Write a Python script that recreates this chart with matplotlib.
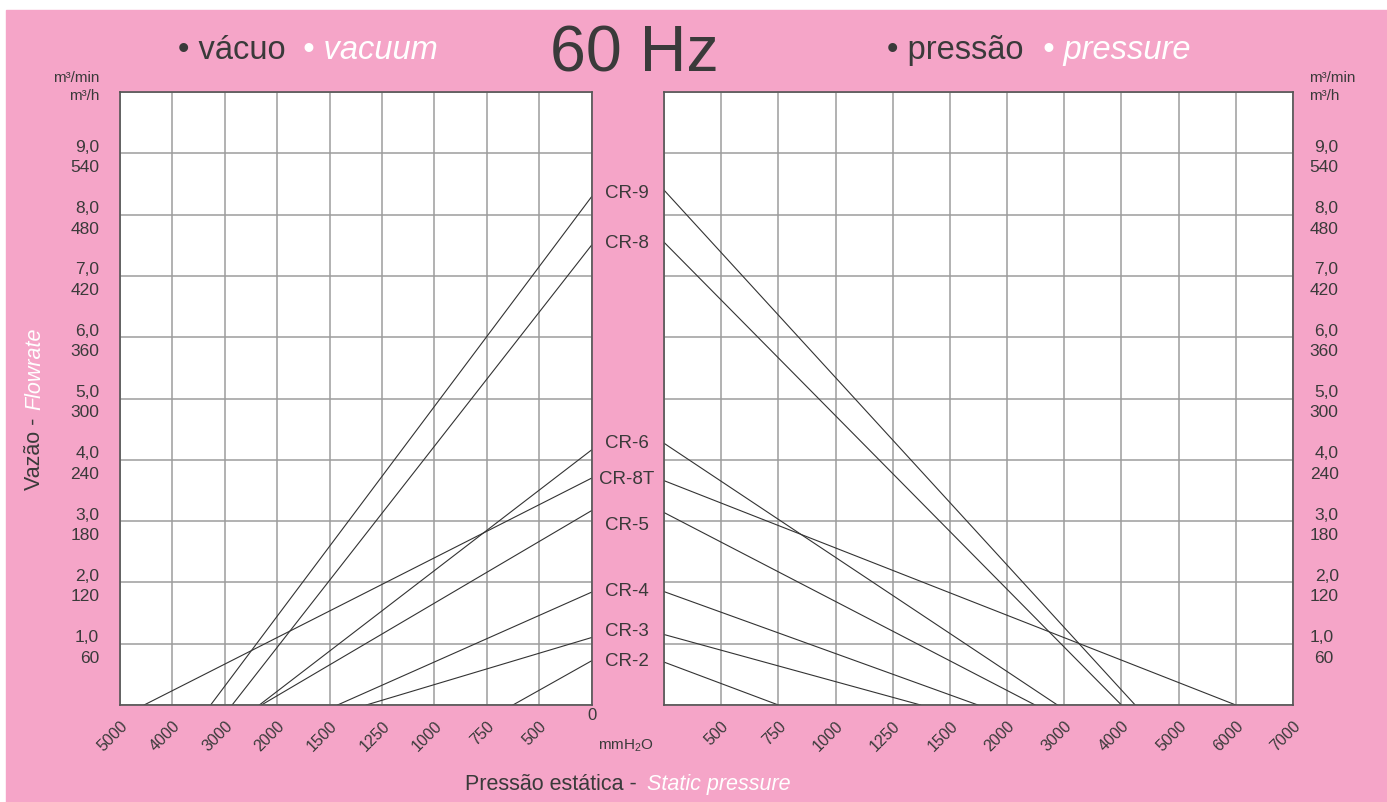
import numpy as np
import matplotlib.pyplot as plt
from matplotlib.patches import Rectangle
from matplotlib.transforms import blended_transform_factory

plt.rcParams['font.family'] = ['Liberation Sans', 'DejaVu Sans']
plt.rcParams['mathtext.fontset'] = 'custom'
plt.rcParams['mathtext.rm'] = 'Liberation Sans'
plt.rcParams['mathtext.it'] = 'Liberation Sans:italic'

# --- data -------------------------------------------------------------
models = ['CR-9', 'CR-8', 'CR-6', 'CR-8T', 'CR-5', 'CR-4', 'CR-3', 'CR-2']

# vacuum side: free flow (m3/min) and vacuum where flow drops to zero (mmH2O)
vac_flow = [8.29, 7.50, 4.16, 3.70, 3.17, 1.84, 1.10, 0.72]
vac_max = [3270, 2860, 2340, 4540, 2300, 1462, 1325, 625]

# pressure side
pres_flow = [8.40, 7.55, 4.27, 3.66, 3.14, 1.85, 1.15, 0.70]
pres_max = [4240, 4000, 2880, 6000, 2490, 1745, 1372, 750]

vac_ticks = [0, 500, 750, 1000, 1250, 1500, 2000, 3000, 4000, 5000]
pres_ticks = [0, 500, 750, 1000, 1250, 1500, 2000, 3000, 4000, 5000, 6000, 7000]
flow_ticks = list(range(0, 11))

# --- style ------------------------------------------------------------
PINK = '#F5A5C8'
DARK = '#3a3a3a'
GRID = '#9c9c9c'
FRAME = '#555555'
LINE = '#333333'

W, H = 1387, 802
fig = plt.figure(figsize=(W / 100, H / 100), dpi=100, facecolor='white')
fig.add_artist(Rectangle((6 / W, 0), 1, 1 - 10 / H, transform=fig.transFigure,
                         color=PINK, zorder=-10))


def px_axes(x0, y0, x1, y1):
    return fig.add_axes([x0 / W, 1 - y1 / H, (x1 - x0) / W, (y1 - y0) / H])


def grid_scale(ticks):
    # evenly spaced columns for an uneven pressure scale
    pos = np.arange(len(ticks), dtype=float)
    fwd = lambda p: np.interp(p, ticks, pos)
    inv = lambda q: np.interp(q, pos, ticks)
    return fwd, inv


def flow_label(v):
    return f"{v:.1f}".replace('.', ',') + "\n" + f"{v * 60:.0f}"


def style_axes(ax, ticks, side):
    ax.set_facecolor('white')
    ax.set_xscale('function', functions=grid_scale(ticks))
    ax.set_xticks(ticks)
    ax.set_xticklabels(['' if t == 0 else str(t) for t in ticks])
    ax.set_yticks(flow_ticks)
    ax.set_yticklabels(['' if v in (0, 10) else flow_label(v) for v in flow_ticks])
    ax.set_ylim(0, 10)
    ax.grid(True, color=GRID, lw=1.1)
    ax.set_axisbelow(True)
    for s in ax.spines.values():
        s.set_color(FRAME)
        s.set_linewidth(1.2)
    ax.tick_params(axis='x', length=0, pad=9.5, labelsize=11.5, colors=DARK)
    ax.tick_params(axis='y', length=0, labelsize=12.5, colors=DARK,
                   pad=15 if side == 'left' else 12)
    for lab in ax.get_xticklabels():
        lab.set_rotation(45)
        lab.set_ha('right')
        lab.set_va('top')
        lab.set_rotation_mode('anchor')
    if side == 'right':
        ax.yaxis.tick_right()
    for lab in ax.get_yticklabels():
        lab.set_multialignment('right')
        lab.set_linespacing(1.45)


axL = px_axes(120, 92, 591.5, 705)
axR = px_axes(664, 92, 1293, 705)
style_axes(axL, vac_ticks, 'left')
style_axes(axR, pres_ticks, 'right')
axL.set_xlim(5000, 0)
axR.set_xlim(0, 7000)

for i, m in enumerate(models):
    axL.plot([vac_max[i], 0], [0, vac_flow[i]], color=LINE, lw=0.8)
    axR.plot([0, pres_max[i]], [pres_flow[i], 0], color=LINE, lw=0.8)

# model names between the two panels
nudge = {'CR-5': -0.23, 'CR-3': 0.08, 'CR-6': 0.05}
tr = blended_transform_factory(fig.transFigure, axL.transData)
for i, m in enumerate(models):
    y = (vac_flow[i] + pres_flow[i]) / 2 + nudge.get(m, 0)
    fig.text(627 / W, y, m, transform=tr, ha='center', va='center',
             fontsize=13.5, color=DARK)

axL.annotate('0', xy=(0, 0), xytext=(0, -2), textcoords='offset points',
             ha='center', va='top', fontsize=12, color=DARK,
             annotation_clip=False)

# units
units = 'm³/min\nm³/h'
fig.text(99 / W, 1 - 87 / H, units, ha='right', va='center', ma='right',
         fontsize=11, color=DARK, linespacing=1.3)
fig.text(1309 / W, 1 - 87 / H, units, ha='left', va='center', ma='left',
         fontsize=11, color=DARK, linespacing=1.3)

# headings
fig.text(178 / W, 1 - 59 / H, '• vácuo', fontsize=23.5, color=DARK, va='baseline')
fig.text(303 / W, 1 - 59 / H, '• vacuum', fontsize=23.5, color='white',
         style='italic', va='baseline')
fig.text(634 / W, 1 - 72 / H, '60 Hz', fontsize=46.5, color=DARK,
         ha='center', va='baseline')
fig.text(887 / W, 1 - 59 / H, '• pressão', fontsize=23.5, color=DARK, va='baseline')
fig.text(1043 / W, 1 - 59 / H, '• pressure', fontsize=23.5, color='white',
         style='italic', va='baseline')

# axis titles
fig.text(35 / W, 1 - 490 / H, 'Vazão -', rotation=90, ha='center', va='bottom',
         fontsize=15.5, color=DARK)
fig.text(35 / W, 1 - 327 / H, 'Flowrate', rotation=90, ha='center', va='top',
         fontsize=15.5, color='white', style='italic')
fig.text(465 / W, 1 - 790 / H, 'Pressão estática - ', fontsize=15.5, color=DARK,
         va='baseline')
fig.text(647 / W, 1 - 790 / H, 'Static pressure', fontsize=15.5, color='white',
         style='italic', va='baseline')
fig.text(598 / W, 1 - 750 / H, r'mmH$_2$O', fontsize=11, color=DARK, va='baseline')

fig.savefig('out.png', dpi=100, facecolor=fig.get_facecolor())
